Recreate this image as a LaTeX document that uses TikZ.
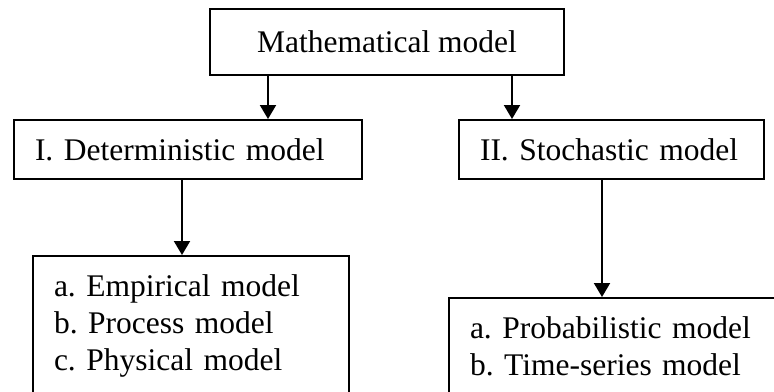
\documentclass[tikz,border=0pt]{standalone}
\usepackage{fontspec}
\setmainfont{Liberation Serif}
\usepackage{tikz}
\usetikzlibrary{arrows.meta, positioning, calc}
\newcommand{\diagfont}{\fontsize{15.75}{18.5}\selectfont\frenchspacing}

\begin{document}
\begin{tikzpicture}[
    x=0.5pt, y=-0.5pt,
    >={Triangle[width=8pt,length=7pt]},
    every node/.style={font=\diagfont},
    title/.style={draw, line width=1pt, minimum width=177pt, minimum height=33pt},
    kind/.style={draw, line width=1pt, align=left, inner xsep=10.5pt, minimum height=29.5pt},
    sub/.style={draw, line width=1pt, align=left, anchor=north west, inner xsep=10.5pt, inner ysep=9pt, text height=11pt, text depth=50pt},
    link/.style={->, line width=1pt}
  ]
    \clip (0,0) rectangle (774,391);

    % Top
    \node[title] (model) at (387, 42) {Mathematical model};

    % Two kinds
    \node[kind, text width=153pt] (det) at (188, 149.5) {I. Deterministic model};
    \node[kind, text width=131.5pt] (sto) at (611.5, 149.5) {II. Stochastic model};

    % Sub-types
    \node[sub, text width=137pt] (dsub) at (32, 255) {a. Empirical model\\b. Process model\\c. Physical model};
    \node[sub, text width=147.5pt] (ssub) at (448, 297) {a. Probabilistic model\\b. Time-series model};

    % Arrows top -> kinds
    \draw[link] ([xshift=-59.5pt]model.south) -- ([xshift=-59.5pt]model.south |- det.north);
    \draw[link] ([xshift=62.5pt]model.south) -- ([xshift=62.5pt]model.south |- sto.north);

    % Arrows kinds -> sub-types
    \draw[link] ([xshift=-3pt]det.south) -- ([xshift=-3pt]det.south |- dsub.north);
    \draw[link] ([xshift=-4.75pt]sto.south) -- ([xshift=-4.75pt]sto.south |- ssub.north);
  \end{tikzpicture}
\end{document}
